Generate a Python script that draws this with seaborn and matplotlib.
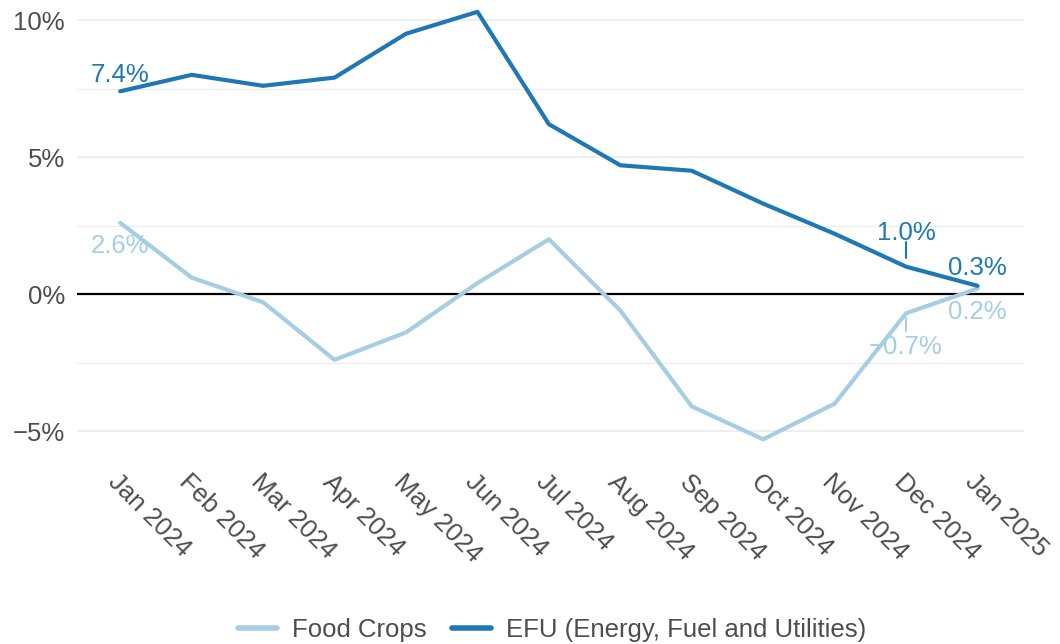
import matplotlib
matplotlib.use("Agg")
import matplotlib.pyplot as plt
import seaborn as sns
import pandas as pd
import numpy as np
from matplotlib.ticker import FuncFormatter, MultipleLocator

months = ["Jan 2024", "Feb 2024", "Mar 2024", "Apr 2024", "May 2024", "Jun 2024",
          "Jul 2024", "Aug 2024", "Sep 2024", "Oct 2024", "Nov 2024", "Dec 2024", "Jan 2025"]
food_crops = [2.6, 0.6, -0.3, -2.4, -1.4, 0.4, 2.0, -0.6, -4.1, -5.3, -4.0, -0.7, 0.2]
efu = [7.4, 8.0, 7.6, 7.9, 9.5, 10.3, 6.2, 4.7, 4.5, 3.3, 2.2, 1.0, 0.3]
series_names = ["Food Crops", "EFU (Energy, Fuel and Utilities)"]
colors = ["#a6cee3", "#1f78b4"]
text_col = "#4d4d4d"

df = pd.DataFrame({
    "month": months * 2,
    "x": list(range(len(months))) * 2,
    "value": food_crops + efu,
    "series": [series_names[0]] * len(months) + [series_names[1]] * len(months),
})

sns.set_theme(style="white")
plt.rcParams["font.family"] = ["Liberation Sans", "DejaVu Sans"]
FS = 18.5

fig = plt.figure(figsize=(10.6, 6.44), dpi=100)
ax = fig.add_axes([0.073, 0.2966, 0.893, 0.6978])

sns.lineplot(data=df, x="x", y="value", hue="series", hue_order=series_names,
             palette=colors, linewidth=3.0, ax=ax, legend=True, sort=False)

ax.set_ylim(-5.8, 10.6)
ax.set_xlim(-0.6, 12.65)
ax.yaxis.set_major_locator(MultipleLocator(5))
ax.yaxis.set_minor_locator(MultipleLocator(2.5))
ax.yaxis.set_major_formatter(FuncFormatter(lambda v, p: f"{v:.0f}%".replace("-", "\u2212")))
ax.grid(True, which="major", axis="y", color="#ebebeb", linewidth=1.2)
ax.grid(True, which="minor", axis="y", color="#ebebeb", linewidth=0.8)
ax.set_axisbelow(True)
ax.axhline(0, color="black", linewidth=1.6, zorder=1.5)
for s in ax.spines.values():
    s.set_visible(False)

ax.set_xticks(range(len(months)))
ax.set_xticklabels(months, rotation=-45, ha="left", va="top", rotation_mode="anchor",
                   fontsize=FS, color=text_col)
ax.tick_params(axis="y", labelsize=FS, labelcolor=text_col, length=0, pad=9, which="both")
ax.tick_params(axis="x", length=0, pad=12)
ax.set_xlabel("")
ax.set_ylabel("")

def fmt(v):
    return f"{v:.1f}%".replace("-", "\u2212")

# labels (baseline positions)
ax.text(0, efu[0] + 0.33, fmt(efu[0]), color=colors[1], fontsize=FS, ha="center", va="baseline")
ax.text(0, food_crops[0] - 1.1, fmt(food_crops[0]), color=colors[0], fontsize=FS, ha="center", va="baseline")
ax.plot([11, 11], [efu[11] + 0.3, efu[11] + 0.9], color=colors[1], lw=1.5)
ax.text(11, efu[11] + 0.97, fmt(efu[11]), color=colors[1], fontsize=FS, ha="center", va="baseline")
ax.text(12, efu[12] + 0.4, fmt(efu[12]), color=colors[1], fontsize=FS, ha="center", va="baseline")
ax.text(12, food_crops[12] - 1.11, fmt(food_crops[12]), color=colors[0], fontsize=FS, ha="center", va="baseline")
ax.plot([11, 11], [food_crops[11] - 0.18, food_crops[11] - 0.65], color=colors[0], lw=1.5)
ax.text(11, food_crops[11] - 1.49, fmt(food_crops[11]), color=colors[0], fontsize=FS, ha="center", va="baseline")

leg = ax.legend(loc="center", bbox_to_anchor=(0.521, 0.022), bbox_transform=fig.transFigure,
                ncol=2, frameon=False, fontsize=FS, handlelength=1.5, columnspacing=1.0,
                handletextpad=0.6)
for t in leg.get_texts():
    t.set_color(text_col)
for l in leg.get_lines():
    l.set_linewidth(4)

fig.savefig("out.png", dpi=100)
